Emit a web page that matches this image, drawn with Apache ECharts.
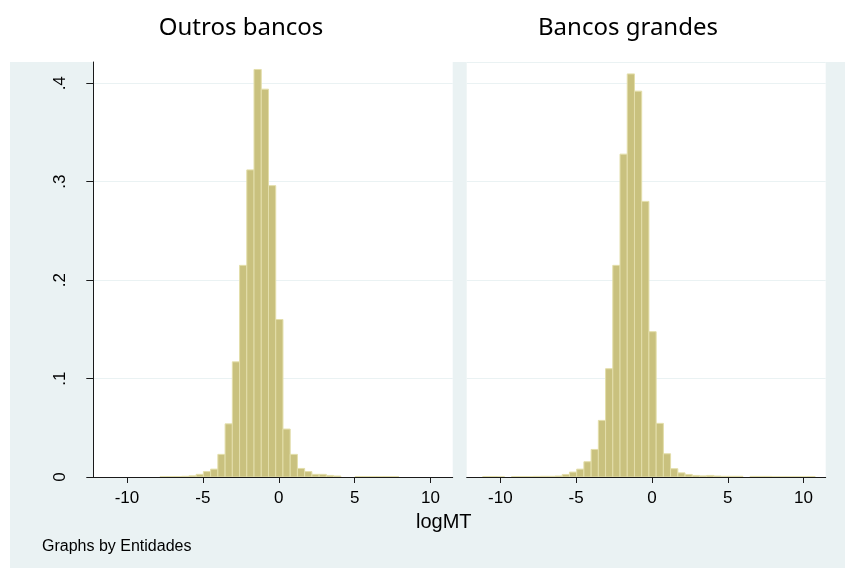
<!DOCTYPE html>
<html>
<head>
<meta charset="utf-8">
<script src="https://cdn.jsdelivr.net/npm/echarts@6/dist/echarts.min.js"></script>
<style>
html,body{margin:0;padding:0;background:#fff;}
#chart{width:845px;height:572px;}
</style>
</head>
<body>
<div id="chart"></div>
<script>
// ---- data ----
const panelTitles = ['Outros bancos', 'Bancos grandes'];
const xAxisTitle = 'logMT';
const noteText = 'Graphs by Entidades';
const binStart = -11.16;   // lower edge of first bin (logMT)
const binWidth = 0.4765;   // bin width (logMT)
// density per bin, bins 0..45
const outrosDensity = [
  0, 0, 0, 0, 0, 0, 0, 0.0003, 0.0004, 0.0005,
  0.0007, 0.0012, 0.0027, 0.0055, 0.008, 0.023, 0.054, 0.117, 0.215, 0.312,
  0.414, 0.394, 0.296, 0.160, 0.0487, 0.023, 0.0087, 0.0055, 0.0027, 0.0027,
  0.0016, 0.001, 0, 0, 0.0005, 0.0004, 0.0004, 0.0004, 0.0004, 0.0004,
  0, 0, 0, 0, 0, 0
];
const grandesDensity = [
  0.0004, 0.0004, 0.0002, 0, 0.0004, 0.0004, 0.0004, 0.0006, 0.0007, 0.0007,
  0.001, 0.0026, 0.005, 0.008, 0.0155, 0.028, 0.0575, 0.110, 0.215, 0.328,
  0.4095, 0.392, 0.280, 0.1476, 0.0545, 0.0236, 0.0084, 0.0042, 0.0026, 0.0016,
  0.0011, 0.0016, 0.001, 0.0007, 0.0007, 0.0007, 0, 0.0006, 0.0006, 0.0006,
  0.0002, 0.0002, 0.0002, 0.0002, 0.0002, 0.0005
];
const xTicks = [-10, -5, 0, 5, 10];
const xTickLabels = ['-10', '-5', '0', '5', '10'];
const yTicks = [0, 0.1, 0.2, 0.3, 0.4];
const yTickLabels = ['0', '.1', '.2', '.3', '.4'];

// ---- styling ----
const BG = '#EAF2F3';
const BAR_FILL = '#C9C17E';
const BAR_LINE = '#E3DEAA';
const AXIS = '#1a1a1a';
const FONT = '"Liberation Sans", Arial, sans-serif';

function toData(arr) {
  return arr.map((h, k) => [binStart + (k + 0.5) * binWidth, h]);
}

function renderBar(params, api) {
  const xc = api.value(0), h = api.value(1);
  if (!h) return null;
  const p0 = api.coord([xc - binWidth / 2, h]);
  const p1 = api.coord([xc + binWidth / 2, 0]);
  return {
    type: 'rect',
    shape: { x: p0[0], y: p0[1], width: p1[0] - p0[0], height: p1[1] - p0[1] },
    style: { fill: BAR_FILL, stroke: BAR_LINE, lineWidth: 1 }
  };
}

const xAxisCommon = {
  type: 'value', min: -12.22, max: 11.46,
  axisLine: { show: true, onZero: false, lineStyle: { color: AXIS, width: 1 } },
  axisTick: { show: true, length: 6, lineStyle: { color: AXIS }, customValues: xTicks },
  axisLabel: {
    customValues: xTicks, color: '#000', fontSize: 17, fontFamily: FONT, margin: 13,
    formatter: v => { const i = xTicks.indexOf(v); return i >= 0 ? xTickLabels[i] : ''; }
  },
  splitLine: { show: false }
};

const yAxisCommon = {
  type: 'value', min: 0, max: 0.4216, interval: 0.1,
  splitLine: { show: true, lineStyle: { color: BG, width: 1 } }
};

const chart = echarts.init(document.getElementById('chart'), null, { renderer: 'canvas' });
chart.setOption({
  animation: false,
  backgroundColor: '#fff',
  graphic: [
    { type: 'rect', z: -10, silent: true, shape: { x: 10, y: 62, width: 835, height: 506 }, style: { fill: BG } },
    { type: 'text', left: 443 - 27, top: 512, style: { text: xAxisTitle, fontSize: 20, fontFamily: FONT, fill: '#000' } },
    { type: 'text', left: 42, top: 539, style: { text: noteText, fontSize: 16, fontFamily: FONT, fill: '#000' } }
  ],
  title: [
    { text: panelTitles[0], left: 236, top: 11, textAlign: 'center',
      textStyle: { fontFamily: '"Noto Sans", sans-serif', fontSize: 24, fontWeight: 'normal', color: '#000' } },
    { text: panelTitles[1], left: 623, top: 11, textAlign: 'center',
      textStyle: { fontFamily: '"Noto Sans", sans-serif', fontSize: 24, fontWeight: 'normal', color: '#000' } }
  ],
  grid: [
    { left: 93.3, top: 62, width: 359.4, height: 415, show: true, backgroundColor: '#fff', borderWidth: 0 },
    { left: 466.7, top: 62, width: 359, height: 415, show: true, backgroundColor: '#fff', borderWidth: 0 }
  ],
  xAxis: [
    Object.assign({ gridIndex: 0 }, xAxisCommon),
    Object.assign({ gridIndex: 1 }, xAxisCommon)
  ],
  yAxis: [
    Object.assign({ gridIndex: 0 }, yAxisCommon, {
      axisLine: { show: true, onZero: false, lineStyle: { color: AXIS, width: 1 } },
      axisTick: { show: true, length: 7, lineStyle: { color: AXIS }, customValues: yTicks },
      axisLabel: {
        customValues: yTicks, rotate: 90, margin: 24, color: '#000', fontSize: 17, fontFamily: FONT,
        formatter: v => { const i = yTicks.findIndex(t => Math.abs(t - v) < 1e-9); return i >= 0 ? yTickLabels[i] : ''; }
      }
    }),
    Object.assign({ gridIndex: 1 }, yAxisCommon, {
      axisLine: { show: false }, axisTick: { show: false }, axisLabel: { show: false }
    })
  ],
  series: [
    { type: 'custom', xAxisIndex: 0, yAxisIndex: 0, renderItem: renderBar, data: toData(outrosDensity), clip: true, encode: { x: 0, y: 1 } },
    { type: 'custom', xAxisIndex: 1, yAxisIndex: 1, renderItem: renderBar, data: toData(grandesDensity), clip: true, encode: { x: 0, y: 1 } }
  ]
});
</script>
</body>
</html>
